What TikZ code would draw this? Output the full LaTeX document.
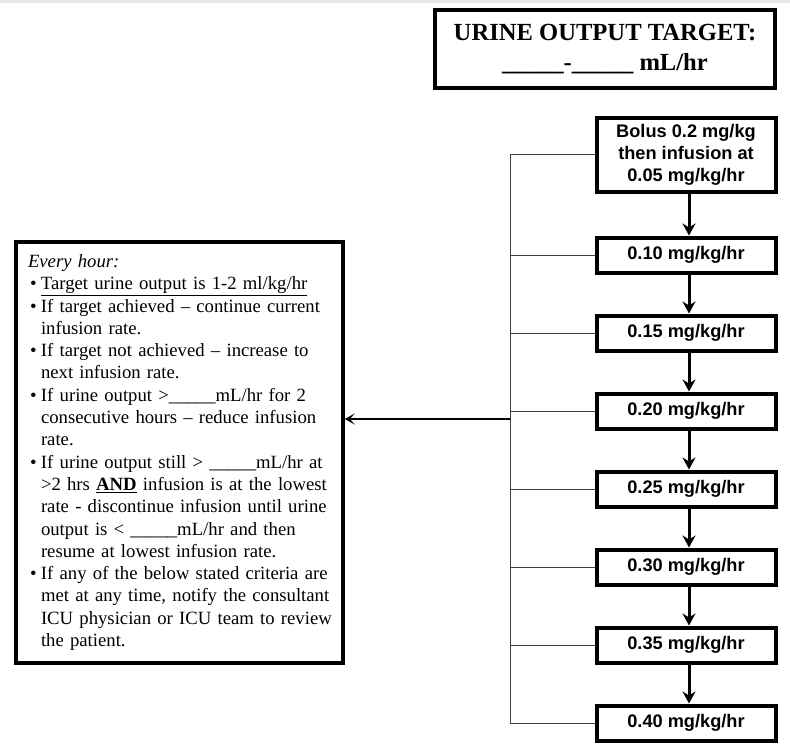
\documentclass[tikz,border=0pt]{standalone}
\usepackage{fontspec}
\setmainfont{Liberation Serif}
\newfontfamily\boxsans{Liberation Sans}
\usetikzlibrary{positioning, arrows.meta}

\newcommand{\noteitem}[1]{\par\noindent\hangindent=13pt\hangafter=1\makebox[13pt][l]{\hspace{2pt}\textbullet}#1}

\tikzset{
  targetbox/.style={draw, line width=4pt, minimum width=340pt, minimum height=78pt,
    align=center, font=\fontsize{24.6}{30}\selectfont\bfseries},
  ratebox/.style={draw, line width=4pt, minimum width=179pt, minimum height=35pt,
    inner sep=2pt, align=center, font=\boxsans\bfseries\fontsize{18.2}{22}\selectfont},
  notebox/.style={draw, line width=3.5pt, minimum width=327pt, minimum height=421pt,
    inner xsep=4pt, text width=319pt, align=left, font=\fontsize{18.7}{22.3}\selectfont},
  link/.style={draw=black!75, line width=1pt},
  steparrow/.style={line width=3pt, -{Stealth[length=12pt, width=13pt, inset=4pt]}},
  sidearrow/.style={line width=2pt, -{Stealth[length=10pt, width=11pt, inset=5pt]}}
}

\begin{document}
\begin{tikzpicture}[x=1pt, y=-1pt]
\def\bx{686}
\def\spx{510}
\useasboundingbox (0,0) rectangle (790,749);
\fill[black!9] (0,0) rectangle (790,3);

\node[targetbox] (target) at (605,49) {URINE OUTPUT TARGET:\\ \_\_\_\_\_-\_\_\_\_\_ mL/hr};

\node[ratebox, minimum height=74pt] (bolus) at (\bx,155) {Bolus 0.2 mg/kg\\then infusion at\\0.05 mg/kg/hr};
\node[ratebox] (r10) at (\bx,255) {0.10 mg/kg/hr};
\node[ratebox] (r15) at (\bx,333) {0.15 mg/kg/hr};
\node[ratebox] (r20) at (\bx,411) {0.20 mg/kg/hr};
\node[ratebox] (r25) at (\bx,489) {0.25 mg/kg/hr};
\node[ratebox] (r30) at (\bx,567) {0.30 mg/kg/hr};
\node[ratebox] (r35) at (\bx,645) {0.35 mg/kg/hr};
\node[ratebox] (r40) at (\bx,723) {0.40 mg/kg/hr};

\node[notebox] (notes) at (179.5,452.5) {%
  \leftskip=8pt \rightskip=-20pt plus 1fil \hyphenpenalty=10000
  {\itshape Every hour:}
  \noteitem{\underline{Target urine output is 1-2 ml/kg/hr}}
  \noteitem{If target achieved -- continue current\newline infusion rate.}
  \noteitem{If target not achieved -- increase to\newline next infusion rate.}
  \noteitem{If urine output >\_\_\_\_\_mL/hr for 2\newline consecutive hours -- reduce infusion\newline rate.}
  \noteitem{If urine output still > \_\_\_\_\_mL/hr at\newline >2 hrs \underline{\textbf{AND}} infusion is at the lowest\newline rate - discontinue infusion until urine\newline output is < \_\_\_\_\_mL/hr and then\newline resume at lowest infusion rate.}
  \noteitem{If any of the below stated criteria are\newline met at any time, notify the consultant\newline ICU physician or ICU team to review\newline the patient.}\par\vspace{14pt}};

\coordinate (sptop) at (\spx,155);
\coordinate (spbot) at (\spx,723);
\coordinate (sparr) at (\spx,419);

\draw[link] (bolus.west) -- (sptop) -- (spbot) -- (r40.west);
\draw[link] (r10.west) -- (r10.west -| sptop);
\draw[link] (r15.west) -- (r15.west -| sptop);
\draw[link] (r20.west) -- (r20.west -| sptop);
\draw[link] (r25.west) -- (r25.west -| sptop);
\draw[link] (r30.west) -- (r30.west -| sptop);
\draw[link] (r35.west) -- (r35.west -| sptop);
\draw[sidearrow] (sparr) -- (notes.east |- sparr);

\draw[steparrow] ([xshift=3pt]bolus.south) -- ([xshift=3pt]r10.north);
\draw[steparrow] ([xshift=3pt]r10.south) -- ([xshift=3pt]r15.north);
\draw[steparrow] ([xshift=3pt]r15.south) -- ([xshift=3pt]r20.north);
\draw[steparrow] ([xshift=3pt]r20.south) -- ([xshift=3pt]r25.north);
\draw[steparrow] ([xshift=3pt]r25.south) -- ([xshift=3pt]r30.north);
\draw[steparrow] ([xshift=3pt]r30.south) -- ([xshift=3pt]r35.north);
\draw[steparrow] ([xshift=3pt]r35.south) -- ([xshift=3pt]r40.north);
\end{tikzpicture}
\end{document}
